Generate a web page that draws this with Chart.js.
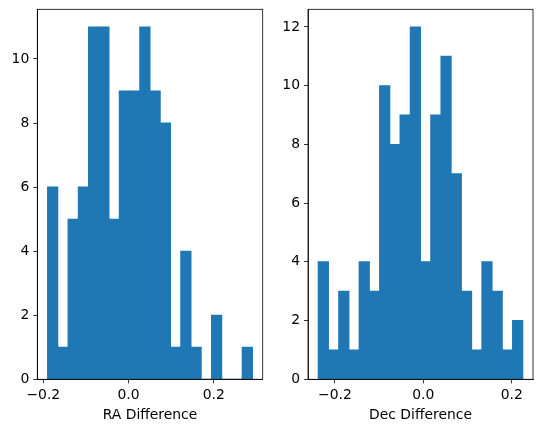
<!DOCTYPE html>
<html>
<head>
<meta charset="utf-8">
<script src="https://cdn.jsdelivr.net/npm/chart.js@4/dist/chart.umd.min.js"></script>
<style>
html, body { margin:0; padding:0; background:#fff; }
#wrap { position:relative; width:543px; height:432px; }
#c_ra { position:absolute; left:0; top:0; }
#c_dec { position:absolute; left:270px; top:0; }
</style>
</head>
<body>
<div id="wrap">
	<canvas id="c_ra" width="270" height="432"></canvas>
	<canvas id="c_dec" width="273" height="432"></canvas>
</div>
<script>
// histogram counts (20 bins each)
var raCounts = [6, 1, 5, 6, 11, 11, 5, 9, 9, 11, 9, 8, 1, 4, 1, 0, 2, 0, 0, 1];
var raEdges = [-0.190, 0.291];		// first / last bin edge
var raXTicks = [-0.2, 0.0, 0.2];
var raYTicks = [0, 2, 4, 6, 8, 10];

var decCounts = [4, 1, 3, 1, 4, 3, 10, 8, 9, 12, 4, 9, 11, 7, 3, 1, 4, 3, 1, 2];
var decEdges = [-0.2377, 0.2249];
var decXTicks = [-0.2, 0.0, 0.2];
var decYTicks = [0, 2, 4, 6, 8, 10, 12];

var barColor = "#1f77b4";
var fontFamily = "'DejaVu Sans', sans-serif";

// box round the plot area, like matplotlib spines
var frame = {
	id: "frame",
	afterDraw: function(chart){
		var a = chart.chartArea;
		var ctx = chart.ctx;
		ctx.save();
		ctx.strokeStyle = "#000";
		ctx.lineWidth = 0.8;
		ctx.strokeRect(a.left, a.top, a.right - a.left, a.bottom - a.top);
		ctx.restore();
	}
};

function fmt(v){
	var s = v.toFixed(1);
	return s.replace("-", "\u2212");
}

function makeHist(id, counts, edges, xTicks, yTicks, title, pad, yWidth){
	var n = counts.length;
	var w = (edges[1] - edges[0]) / n;
	var pts = [];
	for(var i = 0; i < n; i++){
		pts.push({x: edges[0] + w * (i + 0.5), y: counts[i]});
	}
	var span = edges[1] - edges[0];
	var ymax = Math.max.apply(null, counts) * 1.05;

	var ctx = document.getElementById(id).getContext("2d");
	return new Chart(ctx, {
		type: "bar",
		data: {
			datasets: [{
				data: pts,
				backgroundColor: barColor,
				borderWidth: 0,
				inflateAmount: 0.5,
				barPercentage: 1,
				categoryPercentage: 1
			}]
		},
		options: {
			responsive: false,
			animation: false,
			devicePixelRatio: 1,
			layout: { padding: pad },
			plugins: { legend: {display:false}, tooltip: {enabled:false} },
			scales: {
				x: {
					type: "linear",
					offset: false,
					min: edges[0] - 0.05 * span,
					max: edges[1] + 0.05 * span,
					afterBuildTicks: function(ax){ ax.ticks = xTicks.map(function(v){ return {value:v}; }); },
					afterFit: function(ax){
						ax.height = 48.1;
						ax.paddingLeft = 0; ax.paddingRight = 0;
					},
					grid: { offset:false, drawOnChartArea:false, drawTicks:true, tickLength:4, color:"#000", lineWidth:0.8 },
					border: { display:true, color:"#000", width:0.8 },
					ticks: { color:"#000", padding:4, maxRotation:0, autoSkip:false,
						font:{family:fontFamily, size:13.9}, callback: function(v){ return fmt(v); } },
					title: { display:true, text:title, color:"#000", padding:{top:4, bottom:4},
						font:{family:fontFamily, size:13.9} }
				},
				y: {
					min: 0,
					max: ymax,
					afterBuildTicks: function(ax){ ax.ticks = yTicks.map(function(v){ return {value:v}; }); },
					afterFit: function(ax){
						ax.width = yWidth;
						ax.paddingTop = 0; ax.paddingBottom = 0;
					},
					grid: { drawOnChartArea:false, drawTicks:true, tickLength:4, color:"#000", lineWidth:0.8 },
					border: { display:true, color:"#000", width:0.8 },
					ticks: { color:"#000", padding:4, autoSkip:false,
						font:{family:fontFamily, size:13.9}, callback: function(v){ return String(v); } }
				}
			}
		},
		plugins: [frame]
	});
}

makeHist("c_ra", raCounts, raEdges, raXTicks, raYTicks, "RA Difference",
	{left:0, top:9.3, right:7.3, bottom:4.6}, 37.3);
makeHist("c_dec", decCounts, decEdges, decXTicks, decYTicks, "Dec Difference",
	{left:0, top:9.3, right:10, bottom:4.6}, 38);
</script>
</body>
</html>
